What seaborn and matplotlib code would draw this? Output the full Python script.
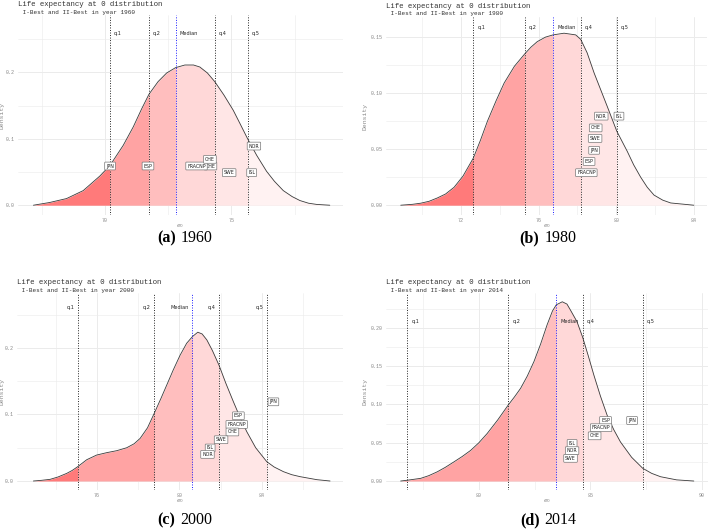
import numpy as np
import pandas as pd
import seaborn as sns
import matplotlib.pyplot as plt

# density curves (e0, density)
dens_x_1960 = [67.17, 67.8, 68.48, 69.14, 69.8, 70.2, 70.72, 71.12, 71.45, 71.74, 72.1, 72.44,
               72.79, 73.16, 73.5, 73.75, 74.05, 74.34, 74.7, 75.07, 75.35, 75.64, 76.0,
               76.39, 76.7, 77.05, 77.4, 77.71, 78.05, 78.37, 78.89]
dens_y_1960 = [0.0, 0.004, 0.010, 0.022, 0.044, 0.060, 0.090, 0.118, 0.145, 0.167, 0.186, 0.199,
               0.207, 0.211, 0.211, 0.208, 0.199, 0.186, 0.166, 0.143, 0.122, 0.100, 0.075,
               0.051, 0.036, 0.022, 0.013, 0.007, 0.003, 0.0012, 0.0]

dens_x_1980 = [68.89, 69.5, 69.92, 70.35, 70.78, 71.2, 71.64, 72.1, 72.63, 73.0, 73.36, 73.8,
               74.22, 74.75, 75.28, 75.6, 75.93, 76.35, 76.74, 77.31, 77.91, 78.17, 78.5,
               78.86, 79.2, 79.54, 80.03, 80.3, 80.57, 80.9, 81.26, 81.6, 81.95, 82.4, 82.81, 84.0]
dens_y_1980 = [0.0, 0.0008, 0.0018, 0.0035, 0.0065, 0.010, 0.016, 0.026, 0.042, 0.058, 0.075, 0.093,
               0.109, 0.124, 0.135, 0.141, 0.146, 0.150, 0.152, 0.1535, 0.152, 0.148, 0.136,
               0.118, 0.103, 0.088, 0.066, 0.057, 0.048, 0.036, 0.025, 0.016, 0.009, 0.0045, 0.002, 0.0]

dens_x_2000 = [72.91, 73.3, 73.72, 74.1, 74.53, 74.8, 75.06, 75.5, 75.98, 76.47, 76.96, 77.44,
               77.8, 78.09, 78.45, 78.78, 79.1, 79.38, 79.7, 80.03, 80.35, 80.63, 80.89,
               81.1, 81.33, 81.6, 81.92, 82.25, 82.62, 82.95, 83.27, 83.7, 84.24, 84.6,
               85.05, 85.45, 85.86, 86.67, 87.31]
dens_y_2000 = [0.0, 0.001, 0.0025, 0.006, 0.0115, 0.016, 0.0215, 0.032, 0.039, 0.0426, 0.0456, 0.050,
               0.056, 0.064, 0.080, 0.102, 0.124, 0.144, 0.167, 0.189, 0.207, 0.217, 0.2236,
               0.221, 0.212, 0.196, 0.174, 0.147, 0.119, 0.095, 0.074, 0.050, 0.029, 0.021,
               0.014, 0.0095, 0.0065, 0.002, 0.0]

dens_x_2014 = [76.49, 76.78, 77.39, 77.75, 78.13, 78.5, 78.88, 79.25, 79.63, 80.0, 80.37, 80.85,
               81.31, 81.6, 81.87, 82.17, 82.47, 82.77, 83.06, 83.3, 83.47, 83.74, 83.95,
               84.11, 84.4, 84.65, 84.9, 85.16, 85.45, 85.75, 86.05, 86.35, 86.85, 87.35,
               87.75, 88.15, 88.87, 89.64]
dens_y_2014 = [0.0, 0.001, 0.0035, 0.007, 0.012, 0.018, 0.025, 0.032, 0.040, 0.050, 0.062, 0.080,
               0.099, 0.110, 0.121, 0.137, 0.156, 0.179, 0.204, 0.222, 0.230, 0.234, 0.231,
               0.223, 0.208, 0.188, 0.164, 0.138, 0.111, 0.086, 0.067, 0.051, 0.031, 0.0166,
               0.010, 0.0056, 0.0015, 0.0]

quant_names = ["q.1", "q.2", "Median", "q.4", "q.5"]
quant_1960 = [70.2, 71.74, 72.79, 74.34, 75.64]
quant_1980 = [72.63, 75.28, 76.74, 78.17, 80.03]
quant_2000 = [75.06, 78.78, 80.63, 81.92, 84.24]
quant_2014 = [76.78, 81.31, 83.47, 84.65, 87.35]

lab_1960 = ["JPN", "ESP", "CHE", "FRACNP", "CHE", "SWE", "ISL", "NOR"]
labx_1960 = [70.2, 71.7, 74.17, 73.62, 74.15, 74.91, 75.80, 75.89]
laby_1960 = [0.059, 0.059, 0.059, 0.059, 0.069, 0.049, 0.049, 0.089]

lab_1980 = ["NOR", "ISL", "CHE", "SWE", "JPN", "ESP", "FRACNP"]
labx_1980 = [79.23, 80.14, 78.94, 78.91, 78.86, 78.60, 78.46]
laby_1980 = [0.0795, 0.0795, 0.069, 0.0596, 0.049, 0.039, 0.029]

lab_2000 = ["JPN", "ESP", "FRACNP", "CHE", "SWE", "ISL", "NOR"]
labx_2000 = [84.56, 82.86, 82.78, 82.57, 82.02, 81.49, 81.36]
laby_2000 = [0.119, 0.098, 0.085, 0.0737, 0.062, 0.0496, 0.040]

lab_2014 = ["JPN", "ESP", "FRACNP", "CHE", "ISL", "NOR", "SWE"]
labx_2014 = [86.87, 85.68, 85.48, 85.19, 84.18, 84.18, 84.11]
laby_2014 = [0.079, 0.079, 0.0696, 0.059, 0.049, 0.0396, 0.0296]

FILLS = ["#ff7a7a", "#ffa3a3", "#ffbebe", "#ffd8d8", "#ffe6e6", "#fff2f2"]
MONO = "Liberation Mono"
GRID = "#ebebeb"

sns.set_theme(style="white")
plt.rcParams["font.family"] = ["DejaVu Sans"]

fig = plt.figure(figsize=(7.08, 5.30), dpi=100)

panels = [
    dict(year=1960, xs=dens_x_1960, ys=dens_y_1960, q=quant_1960, lab=lab_1960, lx=labx_1960, ly=laby_1960,
         pos=[0.0254, 0.594, 0.459, 0.3774], xlim=(66.56, 79.41), ylim=(-0.015, 0.286),
         xmaj=[70, 75], xmin=[67.5, 72.5, 77.5], ymaj=[0.0, 0.1, 0.2], ymin=[0.05, 0.15, 0.25],
         yfmt="{:.1f}", qy=0.259, qside="right", ylx=-0.042, cap="(a)", capxy=(0.252, 0.543)),
    dict(year=1980, xs=dens_x_1980, ys=dens_y_1980, q=quant_1980, lab=lab_1980, lx=labx_1980, ly=laby_1980,
         pos=[0.5452, 0.594, 0.4534, 0.374], xlim=(68.13, 84.68), ylim=(-0.0089, 0.168),
         xmaj=[72, 76, 80, 84], xmin=[70, 74, 78, 82], ymaj=[0.0, 0.05, 0.10, 0.15],
         ymin=[0.025, 0.075, 0.125], yfmt="{:.2f}", qy=0.159, qside="right", ylx=-0.058,
         cap="(b)", capxy=(0.766, 0.543)),
    dict(year=2000, xs=dens_x_2000, ys=dens_y_2000, q=quant_2000, lab=lab_2000, lx=labx_2000, ly=laby_2000,
         pos=[0.0236, 0.0755, 0.4609, 0.371], xlim=(72.1, 87.94), ylim=(-0.0135, 0.282),
         xmaj=[76, 80, 84], xmin=[74, 78, 82, 86], ymaj=[0.0, 0.1, 0.2], ymin=[0.05, 0.15, 0.25],
         yfmt="{:.1f}", qy=0.26, qside="left", ylx=-0.038, cap="(c)", capxy=(0.252, 0.011)),
    dict(year=2014, xs=dens_x_2014, ys=dens_y_2014, q=quant_2014, lab=lab_2014, lx=labx_2014, ly=laby_2014,
         pos=[0.5448, 0.0755, 0.455, 0.371], xlim=(75.82, 90.27), ylim=(-0.0117, 0.245),
         xmaj=[80, 85, 90], xmin=[77.5, 82.5, 87.5], ymaj=[0.0, 0.05, 0.10, 0.15, 0.20],
         ymin=[0.025, 0.075, 0.125, 0.175, 0.225], yfmt="{:.2f}", qy=0.208, qside="right",
         ylx=-0.058, cap="(d)", capxy=(0.766, 0.011)),
]

for p in panels:
    ax = fig.add_axes(p["pos"])
    xs = np.array(p["xs"])
    ys = np.array(p["ys"])
    df = pd.DataFrame({"e0": xs, "density": ys})

    # grid (major + minor)
    for v in p["xmaj"]:
        ax.axvline(v, color=GRID, lw=0.7, zorder=0)
    for v in p["xmin"]:
        ax.axvline(v, color=GRID, lw=0.4, zorder=0)
    for v in p["ymaj"]:
        ax.axhline(v, color=GRID, lw=0.7, zorder=0)
    for v in p["ymin"]:
        ax.axhline(v, color=GRID, lw=0.4, zorder=0)

    # shaded quantile regions
    edges = [xs[0]] + list(p["q"]) + [xs[-1]]
    for i in range(len(edges) - 1):
        lo, hi = edges[i], edges[i + 1]
        inner = xs[(xs > lo) & (xs < hi)]
        rx = np.concatenate([[lo], inner, [hi]])
        ry = np.interp(rx, xs, ys)
        ax.fill_between(rx, 0, ry, color=FILLS[i], lw=0, zorder=1)

    sns.lineplot(data=df, x="e0", y="density", color="#3a3a3a", lw=0.6, ax=ax, zorder=3)

    # quantile lines and names
    for name, qv in zip(quant_names, p["q"]):
        col = "#1a1aff" if name == "Median" else "#222222"
        ax.axvline(qv, color=col, lw=0.7, ls=(0, (1, 1.6)), zorder=4)
        if p["qside"] == "right":
            ax.annotate(name, (qv, p["qy"]), xytext=(3, 0), textcoords="offset points",
                        ha="left", va="center", fontsize=3.6, color="#222222")
        else:
            ax.annotate(name, (qv, p["qy"]), xytext=(-2.5, 0), textcoords="offset points",
                        ha="right", va="center", fontsize=3.6, color="#222222")

    # country labels
    for t, lx, ly in zip(p["lab"], p["lx"], p["ly"]):
        ax.text(lx, ly, t, ha="center", va="center", fontsize=3.4, color="#222222", zorder=6,
                bbox=dict(boxstyle="round,pad=0.3,rounding_size=0.15", fc="white",
                          ec="#777777", lw=0.5))

    ax.set_xlim(p["xlim"])
    ax.set_ylim(p["ylim"])
    ax.set_xticks(p["xmaj"])
    ax.set_yticks(p["ymaj"])
    ax.set_yticklabels([p["yfmt"].format(v) for v in p["ymaj"]])
    ax.tick_params(length=0, pad=2, labelsize=3.6, labelcolor="#8a8a8a")
    for lbl in ax.get_xticklabels() + ax.get_yticklabels():
        lbl.set_fontfamily(MONO)
    ax.set_xlabel(r"$e_0$", fontsize=4.2, color="#8a8a8a")
    ax.xaxis.set_label_coords(0.5, -0.036)
    ax.set_ylabel("Density", fontsize=4.6, color="#8a8a8a", family=MONO)
    ax.yaxis.set_label_coords(p["ylx"], 0.5)
    for s in ax.spines.values():
        s.set_visible(False)
    ax.set_facecolor("white")
    ax.grid(False)

    # titles
    x0 = p["pos"][0]
    ytop = p["pos"][1] + p["pos"][3]
    fig.text(x0, ytop + 0.017, "Life expectancy at 0 distribution", family=MONO,
             fontsize=5.3, color="#333333", va="baseline")
    fig.text(x0 + 0.002, ytop + 0.003, " I-Best and II-Best in year %d" % p["year"], family=MONO,
             fontsize=4.3, color="#333333", va="baseline")

    # caption below each panel
    cx, cy = p["capxy"]
    fig.text(cx - 0.004, cy, p["cap"], family="Liberation Serif", fontweight="bold",
             fontsize=11.5, ha="right", va="baseline", color="black")
    fig.text(cx + 0.003, cy, str(p["year"]), family="Liberation Serif",
             fontsize=11.5, ha="left", va="baseline", color="black")

fig.savefig("out.png", dpi=100)
